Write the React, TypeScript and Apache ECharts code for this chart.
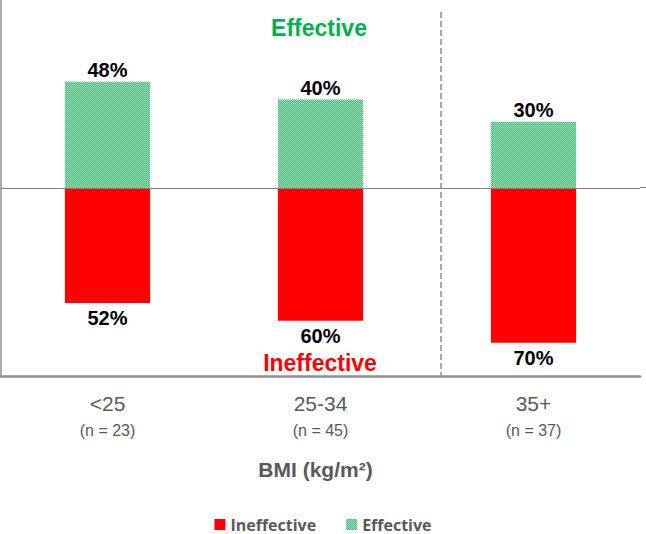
import React, { useEffect, useRef } from "react";
import * as echarts from "echarts";

const categories = ["<25", "25-34", "35+"];
const sampleSizes = ["(n = 23)", "(n = 45)", "(n = 37)"];
const effective = [48, 40, 30];
const ineffective = [52, 60, 70];
const axisTitle = "BMI (kg/m²)";

const GREEN_TEXT = "#00B050";
const RED = "#FF0000";
const GRAY = "#595959";
const FONT = "'Liberation Sans', Arial, sans-serif";

export default function App() {
  const ref = useRef<HTMLDivElement>(null);
  useEffect(() => {
    if (!ref.current) return;
    const chart = echarts.init(ref.current, undefined, { renderer: "svg" });
    const greenDecal = {
      symbol: "rect",
      symbolSize: 1,
      color: "#46b97a",
      dashArrayX: [
        [1, 1],
        [0, 1, 1, 0],
      ],
      dashArrayY: [1, 0],
      rotation: 0,
    };
    chart.setOption({
      animation: false,
      backgroundColor: "#ffffff",
      grid: { left: 1, right: 6, top: 0, bottom: 158, containLabel: false },
      legend: {
        top: 516,
        left: "center",
        padding: 0,
        icon: "rect",
        itemWidth: 11,
        itemHeight: 11,
        itemGap: 30,
        data: ["Ineffective", "Effective"],
        textStyle: {
          fontFamily: "'Open Sans', sans-serif",
          fontWeight: "bold",
          fontSize: 16,
          lineHeight: 17,
          color: GRAY,
        },
      },
      xAxis: {
        type: "category",
        data: categories.map((c, i) => c + "\n" + sampleSizes[i]),
        position: "bottom",
        axisLine: { onZero: false, lineStyle: { color: "#8f8f8f", width: 2.5 } },
        axisTick: { show: false },
        axisLabel: {
          margin: 13,
          formatter: (v: string) => {
            const [a, b] = v.split("\n");
            return "{a|" + a + "}\n{b|" + b + "}";
          },
          rich: {
            a: { fontFamily: FONT, fontSize: 21, color: GRAY, lineHeight: 28 },
            b: { fontFamily: FONT, fontSize: 16, color: GRAY, lineHeight: 26 },
          },
        },
        name: axisTitle,
        nameLocation: "middle",
        nameGap: 83,
        nameTextStyle: {
          fontFamily: FONT,
          fontWeight: "bold",
          fontSize: 21,
          color: GRAY,
          padding: [0, 10, 0, 0],
        },
      },
      yAxis: {
        type: "value",
        min: -85,
        max: 85,
        axisLine: { show: true, lineStyle: { color: "#8f8f8f", width: 1.5 } },
        axisTick: { show: false },
        axisLabel: { show: false },
        splitLine: { show: false },
      },
      series: [
        {
          name: "Ineffective",
          type: "bar",
          barWidth: "40%",
          barGap: "-100%",
          data: ineffective.map((v) => -v),
          itemStyle: { color: RED },
          label: {
            show: true,
            position: "bottom",
            distance: 5,
            formatter: (p: any) => Math.abs(p.value) + "%",
            fontFamily: FONT,
            fontWeight: "bold",
            fontSize: 20,
            color: "#000",
          },
          markLine: {
            silent: true,
            symbol: "none",
            label: { show: false },
            lineStyle: { color: "#7f7f7f", width: 1, type: "solid" },
            data: [{ yAxis: 0 }],
          },
        },
        {
          name: "Effective",
          type: "bar",
          barWidth: "40%",
          barGap: "-100%",
          data: effective,
          itemStyle: { color: "#a2e0bb", decal: greenDecal },
          label: {
            show: true,
            position: "top",
            distance: 2,
            formatter: "{c}%",
            fontFamily: FONT,
            fontWeight: "bold",
            fontSize: 20,
            color: "#000",
          },
        },
      ],
      graphic: [
        {
          type: "text",
          x: 319,
          y: 28,
          style: {
            text: "Effective",
            fill: GREEN_TEXT,
            font: "bold 23px 'Liberation Sans', Arial, sans-serif",
            textAlign: "center",
            textVerticalAlign: "middle",
          },
        },
        {
          type: "text",
          x: 320,
          y: 363,
          style: {
            text: "Ineffective",
            fill: RED,
            font: "bold 23px 'Liberation Sans', Arial, sans-serif",
            textAlign: "center",
            textVerticalAlign: "middle",
          },
        },
        {
          type: "line",
          shape: { x1: 441, y1: 12, x2: 441, y2: 376 },
          style: { stroke: "#555555", lineWidth: 1, lineDash: [6, 3] },
        },
        {
          type: "line",
          shape: { x1: 640, y1: 187.5, x2: 646, y2: 187.5 },
          style: { stroke: "#7f7f7f", lineWidth: 1 },
        },
      ],
    });
    return () => chart.dispose();
  }, []);
  return (
    <div
      ref={ref}
      style={{ position: "fixed", left: 0, top: 0, width: 646, height: 534 }}
    />
  );
}
